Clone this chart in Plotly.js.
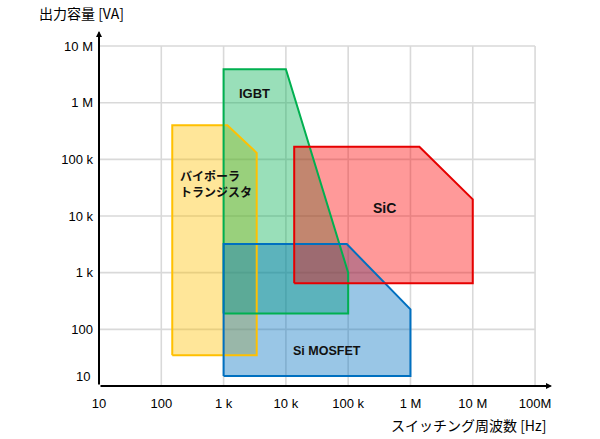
<!DOCTYPE html>
<html><head><meta charset="utf-8">
<script src="https://cdn.plot.ly/plotly-3.0.1.min.js"></script>
<style>html,body{margin:0;padding:0;background:#fff}#chart{width:600px;height:439px}</style>
</head><body><div id="chart"></div>
<script>
// ---- data ----
const seriesNames = ['バイポーラ<br>トランジスタ', 'IGBT', 'Si MOSFET', 'SiC'];
const bipolarFreq = [150, 150, 1150, 3400, 3400];
const bipolarVA   = [35, 400000, 400000, 130000, 35];
const igbtFreq    = [1000, 1000, 10000, 100000, 100000];
const igbtVA      = [190, 3900000, 3900000, 1000, 190];
const mosfetFreq  = [1000, 1000, 95000, 1000000, 1000000];
const mosfetVA    = [15, 3200, 3200, 225, 15];
const sicFreq     = [13600, 13600, 1390000, 10000000, 10000000];
const sicVA       = [650, 167000, 167000, 19700, 650];
const xTickVals = [10, 100, 1e3, 1e4, 1e5, 1e6, 1e7, 1e8];
const xTickText = ['10', '100', '1 k', '10 k', '100 k', '1 M', '10 M', '100M'];
const yTickVals = [10, 100, 1e3, 1e4, 1e5, 1e6, 1e7];
const yTickText = ['10', '100', '1 k', '10 k', '100 k', '1 M', '10 M'];
const xTitle = 'スイッチング周波数 [Hz]';
const yTitle = '出力容量 [VA]';

// ---- styles ----
const lineCols = ['#FFC000', '#00B050', '#0070C0', '#E60000'];
const fillCols = ['rgba(255,192,0,0.4)', 'rgba(0,176,80,0.4)', 'rgba(0,112,192,0.4)', 'rgba(255,0,0,0.4)'];
const close = a => a.concat([a[0]]);
const polys = [[bipolarFreq, bipolarVA], [igbtFreq, igbtVA], [mosfetFreq, mosfetVA], [sicFreq, sicVA]];

const fills = polys.map((p, i) => ({
  type: 'scatter', mode: 'lines', x: close(p[0]), y: close(p[1]),
  fill: 'toself', fillcolor: fillCols[i],
  line: {color: 'rgba(0,0,0,0)', width: 0}, hoverinfo: 'skip', showlegend: false, name: seriesNames[i]
}));
const outlines = polys.map((p, i) => ({
  type: 'scatter', mode: 'lines', x: close(p[0]), y: close(p[1]),
  line: {color: lineCols[i], width: 2}, hoverinfo: 'skip', showlegend: false, name: seriesNames[i]
}));

const latin = 'Arial, "Liberation Sans", "Noto Sans CJK JP", sans-serif';
const jp = '"Noto Sans CJK JP", Arial, sans-serif';

const shapes = [];
xTickVals.slice(1).forEach(v => shapes.push({type: 'line', layer: 'below', xref: 'x', yref: 'y',
  x0: v, x1: v, y0: yTickVals[0], y1: yTickVals[yTickVals.length - 1], line: {color: '#d9d9d9', width: 1.6}}));
yTickVals.slice(1).forEach(v => shapes.push({type: 'line', layer: 'below', xref: 'x', yref: 'y',
  x0: xTickVals[0], x1: xTickVals[xTickVals.length - 1], y0: v, y1: v, line: {color: '#d9d9d9', width: 1.6}}));

const L = Math.log10;
const annotations = [
  // axis arrows
  {xref: 'paper', yref: 'paper', x: 1, y: 0, ax: -453, ay: 0, axref: 'pixel', ayref: 'pixel',
   text: '', showarrow: true, arrowhead: 2, arrowsize: 0.6, arrowwidth: 2, arrowcolor: '#000', standoff: 0},
  {xref: 'paper', yref: 'paper', x: 0, y: 1, ax: 0, ay: 355, axref: 'pixel', ayref: 'pixel',
   text: '', showarrow: true, arrowhead: 2, arrowsize: 0.6, arrowwidth: 2, arrowcolor: '#000', standoff: 0},
  // lowest y tick label (drawn above the axis line)
  {xref: 'paper', yref: 'y', x: 0, y: L(yTickVals[0]), xanchor: 'right', yanchor: 'middle',
   xshift: -7, yshift: 9.5, text: yTickText[0], showarrow: false, font: {family: latin, size: 13, color: '#000'}},
  // axis titles
  {xref: 'paper', yref: 'paper', x: 0, y: 1, xanchor: 'left', yanchor: 'middle', xshift: -62, yshift: 18,
   text: yTitle, showarrow: false, font: {family: jp, size: 14, color: '#000'}},
  {xref: 'paper', yref: 'paper', x: 1, y: 0, xanchor: 'right', yanchor: 'middle', xshift: -4, yshift: -39,
   text: xTitle, showarrow: false, font: {family: jp, size: 14, color: '#000'}},
  // region labels
  {xref: 'x', yref: 'y', x: 2.27, y: 4.57, xanchor: 'left', yanchor: 'middle', align: 'left',
   text: '<b>' + seriesNames[0] + '</b>', showarrow: false, font: {family: jp, size: 12, color: '#111'}},
  {xref: 'x', yref: 'y', x: 3.50, y: 6.17, text: '<b>' + seriesNames[1] + '</b>', showarrow: false,
   font: {family: latin, size: 13, color: '#111'}},
  {xref: 'x', yref: 'y', x: 4.66, y: 1.61, text: '<b>' + seriesNames[2] + '</b>', showarrow: false,
   font: {family: latin, size: 12.5, color: '#111'}},
  {xref: 'x', yref: 'y', x: 5.58, y: 4.14, text: '<b>' + seriesNames[3] + '</b>', showarrow: false,
   font: {family: latin, size: 14, color: '#111'}}
];

const layout = {
  width: 600, height: 439,
  margin: {l: 99, r: 48, t: 31, b: 53, pad: 0},
  paper_bgcolor: '#fff', plot_bgcolor: 'rgba(0,0,0,0)',
  showlegend: false,
  xaxis: {type: 'log', range: [1, 8.272], tickvals: xTickVals, ticktext: xTickText,
    showgrid: false, zeroline: false, showline: false, ticks: '',
    tickfont: {family: latin, size: 13, color: '#000'}, ticklabelstandoff: 8, fixedrange: true},
  yaxis: {type: 'log', range: [1, 7.265], tickvals: yTickVals.slice(1), ticktext: yTickText.slice(1),
    showgrid: false, zeroline: false, showline: false, ticks: '',
    tickfont: {family: latin, size: 13, color: '#000'}, ticklabelstandoff: 5, fixedrange: true},
  shapes: shapes, annotations: annotations
};

Plotly.newPlot('chart', fills.concat(outlines), layout, {displayModeBar: false, staticPlot: true});
</script></body></html>
